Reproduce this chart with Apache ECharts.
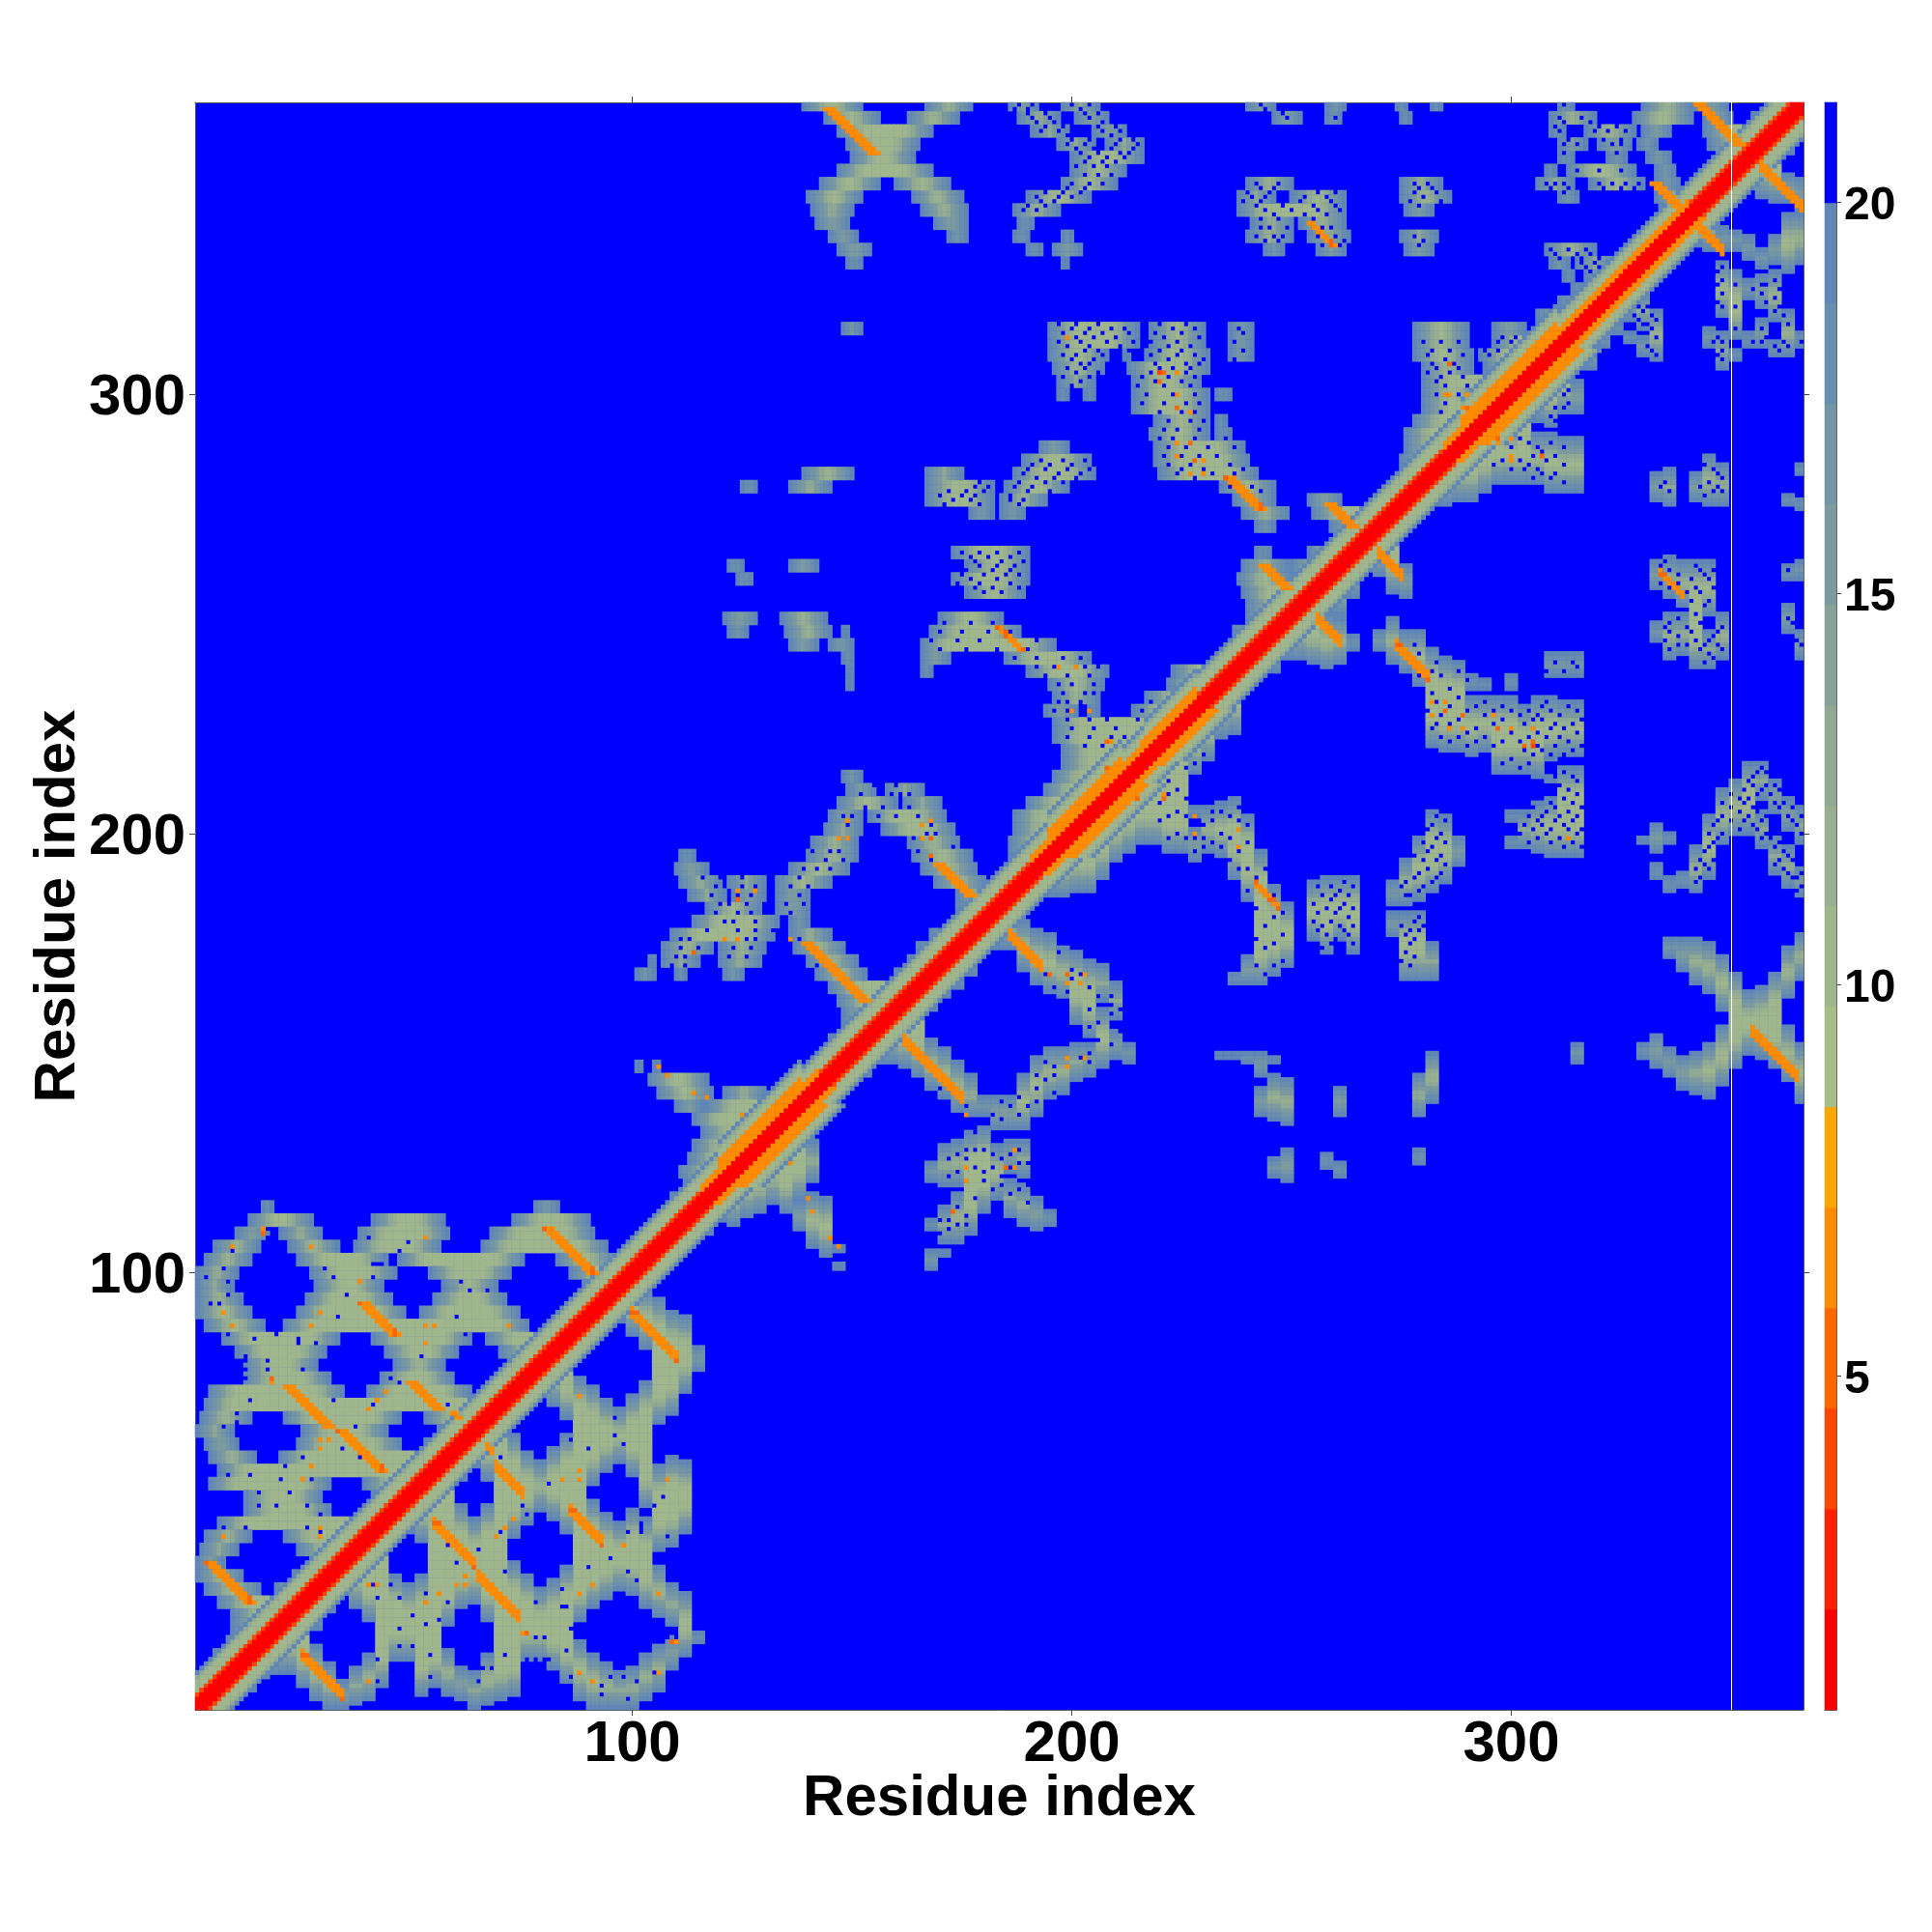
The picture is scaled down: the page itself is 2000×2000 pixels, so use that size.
<!DOCTYPE html>
<html><head><meta charset="utf-8">
<style>html,body{margin:0;padding:0;background:#fff}#c{width:2000px;height:2000px}</style>
<script src="https://cdn.jsdelivr.net/npm/echarts@6/dist/echarts.min.js"></script>
</head><body><div id="c"></div>
<script>
const residueCount = 366;
const tickResidues = [100, 200, 300];
const axisTitle = "Residue index";
const colorbarTicks = [5, 10, 15, 20];
const bandEdges = [0.73,2.01,3.30,4.58,5.87,7.15,8.43,9.72,11.0,12.28,13.57,14.85,16.14,17.42,18.71,19.99,21.27];
const bandColors = ["#ff0000","#ff2000","#ff4500","#ff6600","#ff8c00","#ffa500","#a8bc88","#a0b68c","#98b090","#8fa994","#86a298","#7d9b9f","#7395a6","#6a8ead","#6087b5","#0000ff"];
const haloLevels = [19,18,17,15,13,11,10];
// Each row: [y, a,b, a,b ...]: residue runs left of the diagonal, read on every third row
const rowsLow = [
[115,16,18,78,83,108,115],[112,13,27,41,57,73,90,108,112],[109,10,17,20,29,38,58,68,91,105,109],[106,5,15,22,33,37,56,66,94,100,106],[103,3,13,24,44,47,75,83,96,98,103],
[100,1,10,27,46,54,72,86,100],[97,1,9,28,43,57,69,89,97],[94,1,11,26,45,55,71,87,94],[91,1,13,24,48,52,74,84,91],[88,3,16,21,76,82,88],
[85,7,33,41,63,67,85],[82,10,30,44,60,70,82],[79,12,28,46,57,73,79],[76,12,31,43,59,71,76],[73,4,34,40,63,67,73],[70,3,70],[67,2,13,21,47,53,67],
[64,1,9,25,44,56,64],[61,3,10,24,47,53,61],[58,4,14,20,58],[55,6,55],[52,4,31,39,52],[49,12,29,41,49],[46,12,31,39,46],[43,6,43],[40,3,13,21,40],
[37,2,10,24,37],[34,1,7,27,34],[31,1,11,23,31],[28,3,15,19,28],[25,6,25],[22,9,22],[19,9,19],[16,8,16],[13,5,13],[10,3,10],[7,1,7],[4,1,4]];
const rowsMid = [
[117,109,117],[120,112,120],[123,111,123],[126,113,126],[129,114,129],[132,116,132],[135,114,135],[138,110,116,117,138],[141,106,118,121,130,133,141],
[144,104,117,136,144],[147,101,102,105,106,140,147],[150,143,150],[153,145,153],[156,148,156],[159,148,159],[162,147,162],[165,145,165],
[168,101,105,110,112,121,125,142,153,160,168],[171,104,105,107,115,120,129,140,151,163,171],[174,107,118,120,130,137,148,165,174],[177,109,132,136,145,168,177],
[180,114,133,136,140,174,180],[183,117,129,133,140,174,183],[186,113,121,123,130,133,140,174,186],[189,111,120,122,130,133,145,169,180,183,189],
[192,110,117,136,149,166,178,186,192],[195,111,114,140,151,164,177,186,195],[198,141,151,163,174,186,198],[201,144,152,157,173,187,201],
[204,145,152,154,171,187,204],[207,147,160,162,170,190,207],[210,149,155,158,166,194,210],[213,148,152,196,213]];
const rowsHigh = [
[216,198,216],[219,198,219],[222,196,222],[225,196,225],[228,194,201,204,206,214,228],[231,196,206,217,231],[234,149,150,195,207,222,234],
[237,149,150,166,168,190,208,223,237],[240,148,150,166,172,185,204,235,240],[243,136,142,145,150,166,196,237,243],[246,122,126,135,145,148,149,168,188,237,246],
[249,121,128,134,144,170,184,240,249],[252,240,252],[255,176,189,239,255],[258,124,127,173,190,238,250,252,258],[261,122,125,136,142,176,190,239,249,250,261],
[264,173,190,242,245,254,264],[267,262,267],[270,242,246,259,270],[273,177,182,184,189,239,249,255,273],[276,167,182,184,194,237,246,254,261,270,276],
[279,125,128,136,145,167,182,185,199,234,246,273,279],[282,139,150,167,175,187,205,220,242,275,282],[285,189,204,219,240,275,285],[288,193,199,219,239,276,288],
[291,218,231,233,236,276,291],[294,219,231,233,235,278,294],[297,214,231,280,297],[300,197,199,203,205,214,231,233,236,280,293,296,300],[303,197,205,214,229,280,303],
[306,196,207,213,231,280,291,294,306],[309,195,208,212,213,217,231,236,241,278,291,293,309],[312,195,215,218,230,236,241,278,290,296,312],
[315,148,152,195,215,218,230,236,241,278,290,296,303,306,315],[318,306,318],[321,311,314,317,321],[324,314,316,319,324],[327,312,314,317,327],
[330,149,152,198,199,309,313,315,323,326,330],[333,147,154,190,193,196,202,244,248,256,262,276,282,308,319,327,333],
[336,145,151,172,176,187,190,198,200,240,250,254,263,275,283,330,336],[339,142,149,169,176,188,191,241,250,252,262,336,339],
[342,141,150,166,176,187,197,238,262,276,282,334,342],[345,140,152,164,175,190,204,238,246,250,262,275,286,311,315,333,345],
[348,143,156,160,172,198,210,240,250,275,284,306,314,318,330,333,338,341,348],[351,147,168,200,212,308,310,313,328,333,337,344,351],
[354,150,164,200,216,311,314,322,326,331,336,347,354],[357,149,165,197,205,208,216,311,317,320,327,329,333,345,357],
[360,147,168,191,199,205,212,309,312,317,328,330,336,344,360],[363,144,156,163,174,188,197,201,208,246,252,258,261,275,277,309,319,328,341,344,350,355,363],
[366,139,152,167,177,186,192,198,206,240,246,258,262,274,276,282,284,311,314,330,341,342,349,360,366]];
// Single blue cells inside the mottled areas: [y, x, x, ...]
const blueSpecks = [
[114,15],[110,17,18],[108,17,18,40],[107,49],[105,9,47],[102,41,42,43],[101,7,30],[99,3,32,41],[98,8,55,61],[96,63,67],[95,8,35],[93,4,6,40],[90,33,60],[86,8,19,62],[85,14,24],[84,24,28],[81,12,52],[80,12,17],[78,12,17,25],[76,12,45],[75,47],[71,13,32],[70,41,58],[68,10,29],[66,10,31,60],[65,7,37],[60,34,54],[58,25,38],[56,21,43],[54,8,13],[53,20,27],[50,15,22],[47,15,19,26],[45,11,29],[42,7,12,26],[41,29],
[211,155,157,160],[209,152,159,161,163],[206,153,157,163],[204,148,150,156,160,165],[202,149,168],[200,167,169],[199,164],[197,173],[196,141,145,147,165],[194,144,148,168],[192,139,142,145],[190,116,120,125,131,138],[188,119,125,128,136,140],[186,118,124,127,138,176],[184,120,122,126,135,139],[182,119,124,127,136],[180,121,123,128,178],[178,117,124,128,132],[176,111,113,126,128,138],[174,111,115,123,127],[172,110,112,122,126],[170,109,112,142],
[316,197,201,206,220,226],[315,200,204,209,212,223,228,238],[314,198,203,207,213,219,225,239],[313,201,205,210,221,229],[312,197,202,208,214,218,224,237,280,284,288],[311,199,204,211,222,227],[310,203,206,213,220,225,239,282,286],[309,198,201,207,218,224,228,281,289],[308,200,205,211,216,222,230,237,285],[307,202,204,219,226,229,282,287],[306,199,203,220,223,227,283,288],[305,201,206,218,226,281,286],[304,198,204,216,222,228,284,289],[303,202,219,225,283],[302,200,215,221,227,285,290],[300,217,223,228,283,288],[298,216,221,226,229,285],[296,220,225,228,284,289],[294,222,227,230,286],[292,221,224,229,287],[290,220,223,228,235],[288,222,226,231,237],[286,221,225,229,233],[285,193,198,203],[284,191,195,200,222,227,236],[283,190,194,199,204,225,230,239],[282,189,197,202,224,232,237],[281,192,196,201,228,235],[280,188,194,198,179,226,233],[279,178,181,187,191,236,241],[278,172,176,180,190,195,238,243],[277,170,175,178,186,239],[276,173,177,186,189],[275,171,179,188],
[264,175,179,183,188],[263,177,181,186],[262,174,178,184,189],[261,179,183,187],[260,176,182,186],[259,175,180,185,188],[258,177,183],[257,174,179,186],[256,178,182,188],[255,180,184],
[248,171,177,182],[246,170,175,181,186],[244,168,174,179,187,192],[242,170,176,183,190],[240,187,192,198,202],[238,192,196,203,206],[236,194,199,204],[234,197,200,205],[232,198,203,205],[230,197,199,202,218],[228,196,199,216,219],[226,199,204,208,215],[224,200,205,210],[222,199,204,209,212],[220,203,207],
[366,188,191,200,204,243,312],[365,187,190,202,244],[364,190,194,203,206,248],[363,191,195,204,249,260,311,316],[362,192,196,207,209,312,318],[361,194,198,206,210,310,320,324],[360,193,197,207,211,311,319,322,326],[359,199,203,209,213],[358,200,204,211,214,313,321,325],[357,199,203,210,215,312,315,323,325],[356,201,205,209,214],[355,202,206,211,213,312,324],[354,204,208,212],[353,203,207,210],[352,201,205,208],[351,315,320,325],[350,203,206,209],[348,200,204,207,242,247,278,281,308,310,312,320,323,326,329],[347,199,203,243,246,279,282,309,313,321,325,328],[346,194,198,202,240,245,256,260,278,283,307,312],[345,192,197,200,241,244,253,258,280],[344,193,196,239,243,252,259,277,284],[343,190,194,242,248,255,260,279],[342,189,192,244,250,256,261],[341,246,253,258],[340,243,247,251,255],[338,243,245,249,257,259],[336,242,246,248,256,260,278],[335,244,247,258,262,280],[334,257,261,279],
[333,309,313,317],[332,310,315,318,328],[331,311,316,320,329],[330,316,319,322],[329,317,320,327],[328,318,322,326],[326,319,323],[325,320],[322,318],[318,309,312],[317,307,311],[313,298,301,308,310],[312,297,300],[310,294,297,304,307],[309,295,302]];
// Diagonal: [first residue, last residue, value per offset from the diagonal, base 36]
const diagonalSections = [[1,115,"1114aaadj"],[116,119,"11167aadj"],[120,138,"1116767aadj"],[139,142,"11167aadj"],[143,190,"1114aaadj"],[191,194,"11167aadj"],[195,211,"1116767aadj"],[212,216,"11167aadj"],[217,228,"111676aadj"],[229,284,"1114aaadj"],[285,288,"11167aadj"],[289,310,"1116767aadj"],[311,340,"11167aadj"],[341,366,"1114aaadj"]];
// Strands: [x, y, value of each cell going x+1, y-1, cells across]
const strands = [
[3,34,"5677667766",3],[21,74,"6767667767",3],[33,64,"5676767677",3],[38,93,"56676767",3],[49,75,"6767676",3],[59,68,"66",2],[80,110,"56767676767",3],
[139,175,"67676767676767",3],[169,193,"67676766",3],[235,281,"56766766",3],[258,275,"676766",3],[243,261,"676766",3],[183,247,"565666",2],
[144,365,"67676767676",3],[342,366,"6767676767",3],[332,348,"667676",3],[254,339,"666665",2]];
// Isolated short contacts: [x, y, value]
const specks = [[16,109,5],[16,110,6],[9,106,7],[27,106,7],[38,98,6],[7,91,6],[9,88,7],[27,88,7],[29,91,7],[53,108,7],[53,88,7],[55,88,7],[53,84,7],[72,88,7],
[44,73,7],[42,71,7],[40,69,7],[18,76,5],[18,75,6],[29,62,7],[31,62,7],[29,60,7],[27,56,7],[25,53,7],[7,40,7],[29,42,7],[29,40,7],
[149,203,6],[147,199,7],[149,199,6],[168,203,7],[166,202,7],[166,199,6],[168,199,5],[168,195,5],[124,187,7],[128,187,7],[124,185,5],[121,176,6],[124,176,6],[114,173,5],[136,176,7],[106,147,6],[108,145,7],[114,141,6],[117,140,7],[125,136,6],
[220,305,4],[221,305,5],[224,305,6],[220,303,5],[224,300,6],[224,297,5],[227,296,7],[224,289,6],[227,289,5],[224,286,6],[228,285,5],[230,285,7],[227,282,7],[230,282,6],[199,313,6],
[197,238,7],[201,238,6],[204,228,7],[200,228,7],[208,221,5],[209,221,6],[216,221,7],[208,215,5],[286,307,5],[285,300,6],[290,300,6],[290,297,5],[291,297,6],[289,294,6],[295,289,6],[297,289,6],[300,286,7]];
const whiteColumn = "350";

const residues = [];
for (let r = 1; r <= residueCount; r++) residues.push(String(r));
const cells = new Map();
function put(x, y, v) {
  if (x < 1 || y < 1 || x > residueCount || y > residueCount) return;
  cells.set((x - 1) * 1000 + (y - 1), v);
  cells.set((y - 1) * 1000 + (x - 1), v);
}
function clear(x, y) {
  cells.delete((x - 1) * 1000 + (y - 1));
  cells.delete((y - 1) * 1000 + (x - 1));
}
[rowsLow, rowsMid, rowsHigh].forEach(list => list.forEach(row => {
  for (let k = 1; k < row.length; k += 2) {
    const a = row[k], b = row[k + 1];
    for (let yy = row[0] - 1; yy <= row[0] + 1; yy++)
      for (let x = a; x <= b; x++) {
        const edge = Math.min(x - a, b - x);
        const v = haloLevels[Math.min(edge, haloLevels.length - 1)];
        if (x <= yy) put(x, yy, v);
      }
  }
}));
blueSpecks.forEach(row => row.slice(1).forEach(x => clear(x, row[0])));
diagonalSections.forEach(([s, e, profile]) => {
  for (let x = s; x <= e; x++) for (let d = 0; d < profile.length; d++) put(x, x + d, parseInt(profile[d], 36));
});
strands.forEach(([x, y, vals, across]) => {
  for (let k = 0; k < vals.length; k++) for (let w = 0; w < across; w++) put(x + k + w, y - k, +vals[(k + w) % vals.length]);
});
specks.forEach(([x, y, v]) => put(x, y, v));
const heatData = [];
cells.forEach((v, key) => heatData.push([Math.floor(key / 1000), key % 1000, v]));
const barData = bandColors.map((c, i) => [0, i, (bandEdges[i] + bandEdges[i + 1]) / 2]);

const labelStyle = { fontFamily: "Liberation Sans", fontWeight: "bold", color: "#000" };
const tickAt = (i) => tickResidues.includes(i + 1);
const frameLine = { show: true, lineStyle: { color: "#555", width: 1 } };
const tickLine = { show: true, length: 6, inside: false, interval: tickAt, alignWithLabel: true, lineStyle: { color: "#444", width: 1 } };
const resAxis = (extra) => Object.assign({ type: "category", data: residues, boundaryGap: true, axisLine: frameLine, axisTick: tickLine, splitLine: { show: false }, gridIndex: 0 }, extra);

const chart = echarts.init(document.getElementById("c"), null, { renderer: "canvas" });
chart.setOption({
  animation: false,
  backgroundColor: "#fff",
  grid: [
    { left: 202, top: 106, width: 1665, height: 1664, show: true, backgroundColor: "#0000ff", borderWidth: 0, outerBoundsMode: "none" },
    { left: 1889, top: 106, width: 12, height: 1664, show: false, outerBoundsMode: "none" }
  ],
  xAxis: [
    resAxis({ position: "bottom", name: axisTitle, nameLocation: "middle", nameGap: 62, nameMoveOverlap: false, nameTextStyle: Object.assign({ fontSize: 60 }, labelStyle),
      axisLabel: Object.assign({ fontSize: 60, margin: 6, interval: tickAt }, labelStyle) }),
    resAxis({ position: "top", axisLabel: { show: false } }),
    { type: "category", gridIndex: 1, data: ["bar"], axisLine: frameLine, axisTick: { show: false }, axisLabel: { show: false } }
  ],
  yAxis: [
    resAxis({ position: "left", name: axisTitle, nameLocation: "middle", nameRotate: 90, nameGap: 112, nameMoveOverlap: false, nameTextStyle: Object.assign({ fontSize: 60 }, labelStyle),
      axisLabel: { interval: tickAt, margin: 10, formatter: (v) => "{a|" + v + "}", rich: { a: Object.assign({ fontSize: 60, padding: [8, 0, 0, 0] }, labelStyle) } } }),
    resAxis({ position: "right", axisLabel: { show: false } }),
    { type: "category", gridIndex: 1, position: "left", data: bandColors.map((c, i) => String(i)), axisLine: frameLine, axisTick: { show: false }, axisLabel: { show: false } },
    { type: "value", gridIndex: 1, position: "right", min: bandEdges[0], max: bandEdges[bandEdges.length - 1], axisLine: frameLine, splitLine: { show: false },
      axisTick: { show: true, length: 5, customValues: colorbarTicks, lineStyle: { color: "#444" } },
      axisLabel: { show: true, margin: 8, customValues: colorbarTicks, formatter: (v) => "{a|" + v + "}", rich: { a: Object.assign({ fontSize: 48, padding: [10, 0, 0, 0] }, labelStyle) } } }
  ],
  visualMap: {
    type: "piecewise", show: false, dimension: 2, seriesIndex: [0, 1],
    pieces: bandColors.map((color, i) => ({ gte: bandEdges[i], lt: bandEdges[i + 1], color }))
  },
  series: [
    { type: "heatmap", xAxisIndex: 0, yAxisIndex: 0, data: heatData, progressive: 0, silent: true, itemStyle: { borderWidth: 0 },
      markLine: { silent: true, symbol: "none", animation: false, label: { show: false }, lineStyle: { color: "#ffffff", width: 1, type: "solid" }, data: [{ xAxis: whiteColumn }] } },
    { type: "heatmap", xAxisIndex: 2, yAxisIndex: 2, data: barData, progressive: 0, silent: true, itemStyle: { borderWidth: 0 } }
  ]
});
</script></body></html>
